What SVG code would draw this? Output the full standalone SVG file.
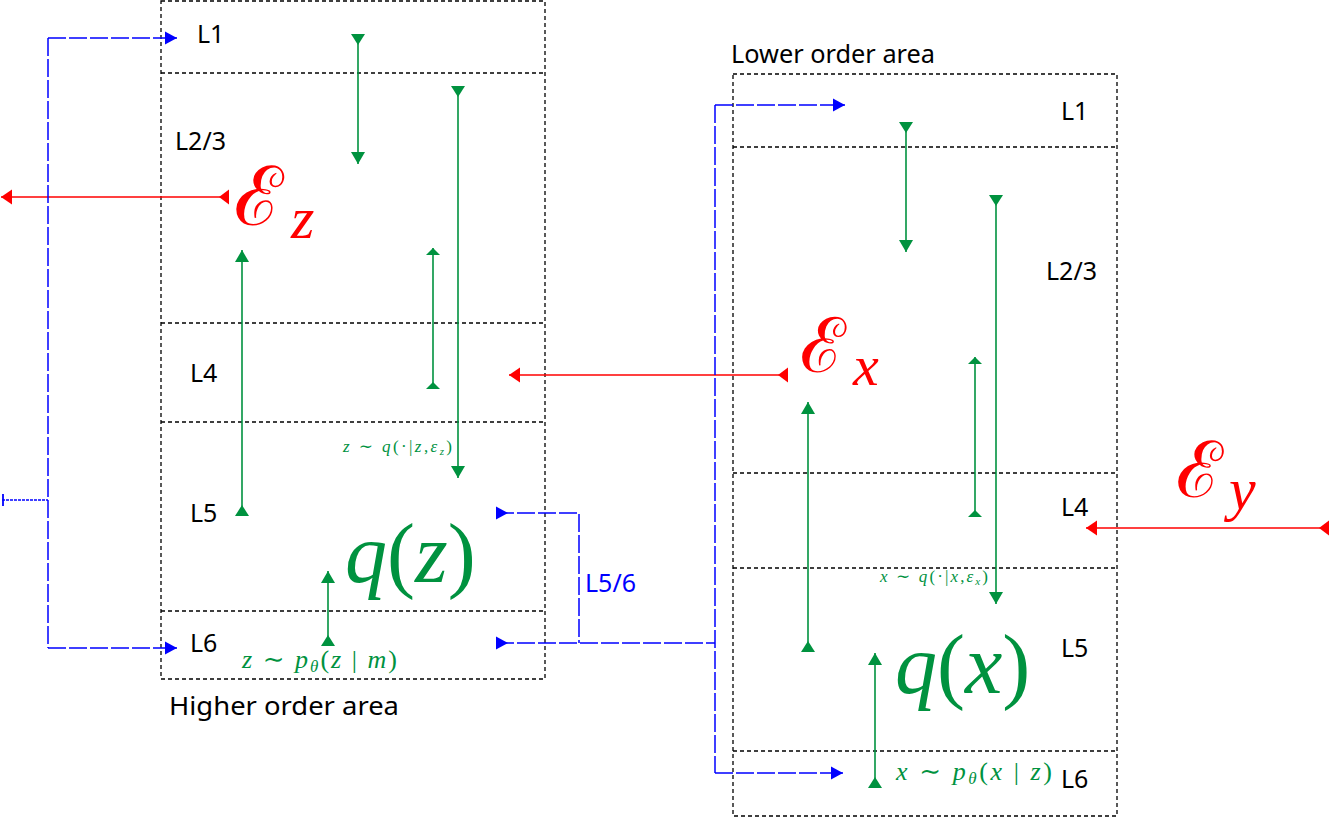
<svg xmlns="http://www.w3.org/2000/svg" width="1329" height="818" viewBox="0 0 1329 818">
<style>
.box{fill:none;stroke:#000;stroke-width:1.3;stroke-dasharray:4 3}
.lbl{font-family:"Noto Sans","Open Sans",sans-serif;font-size:25px;fill:#000}
.area{font-family:"Noto Sans","Open Sans",sans-serif;font-size:26px;fill:#000}
.m{font-family:"Liberation Serif","DejaVu Serif",serif}
.cal{font-family:"DejaVu Serif",serif}
.i{font-style:italic}
.g{fill:#00923f}
.r{fill:#ff0000}
.gl{stroke:#00923f;stroke-width:1.6;fill:none}
.rl{stroke:#ff0000;stroke-width:1.6;fill:none}
.bl{stroke:#0000ff;stroke-width:1.5;fill:none;stroke-dasharray:18 3}
.bd{stroke:#0000ff;stroke-width:1.5;fill:none;stroke-dasharray:3 1}
</style>
<defs>
<marker id="gS" markerUnits="userSpaceOnUse" markerWidth="1" markerHeight="1" orient="auto" overflow="visible"><path d="M-2,-7 L9,0 L-2,7 z" fill="#00923f"/></marker>
<marker id="gE" markerUnits="userSpaceOnUse" markerWidth="1" markerHeight="1" orient="auto" overflow="visible"><path d="M-12,-7 L0,0 L-12,7 z" fill="#00923f"/></marker>
<marker id="gSf" markerUnits="userSpaceOnUse" markerWidth="1" markerHeight="1" orient="auto" overflow="visible"><path d="M-1,-7 L6,0 L-1,7 z" fill="#00923f"/></marker>
<marker id="gEf" markerUnits="userSpaceOnUse" markerWidth="1" markerHeight="1" orient="auto" overflow="visible"><path d="M-7,-7 L0,0 L-7,7 z" fill="#00923f"/></marker>
<marker id="rS" markerUnits="userSpaceOnUse" markerWidth="1" markerHeight="1" orient="auto" overflow="visible"><path d="M0,-7.5 L10,0 L0,7.5 z" fill="#ff0000"/></marker>
<marker id="rE" markerUnits="userSpaceOnUse" markerWidth="1" markerHeight="1" orient="auto" overflow="visible"><path d="M-11,-7.5 L0,0 L-11,7.5 z" fill="#ff0000"/></marker>
<marker id="bS" markerUnits="userSpaceOnUse" markerWidth="1" markerHeight="1" orient="auto" overflow="visible"><path d="M0,-6.5 L12,0 L0,6.5 z" fill="#0000ff"/></marker>
<marker id="bE" markerUnits="userSpaceOnUse" markerWidth="1" markerHeight="1" orient="auto" overflow="visible"><path d="M-12,-6.5 L0,0 L-12,6.5 z" fill="#0000ff"/></marker>
<marker id="bT" markerUnits="userSpaceOnUse" markerWidth="1" markerHeight="1" orient="auto" overflow="visible"><path d="M1,-6 V6" stroke="#0000ff" stroke-width="1.8" fill="none"/></marker>
</defs>

<g id="higher-area">
  <rect class="box" x="161" y="1" width="384" height="678"/>
  <path class="box" d="M161,73 H545 M161,323 H545 M161,422 H545 M161,611 H545"/>
  <text class="lbl" x="197" y="43">L1</text>
  <text class="lbl" x="175" y="150">L2/3</text>
  <text class="lbl" x="190" y="382">L4</text>
  <text class="lbl" x="190" y="522">L5</text>
  <text class="lbl" x="190" y="652">L6</text>
  <text class="area" x="169" y="715" textLength="230" lengthAdjust="spacingAndGlyphs">Higher order area</text>
</g>

<g id="lower-area">
  <rect class="box" x="733" y="74" width="384" height="742"/>
  <path class="box" d="M733,147 H1117 M733,473 H1117 M733,568 H1117 M733,751 H1117"/>
  <text class="lbl" x="1061" y="120">L1</text>
  <text class="lbl" x="1046" y="280">L2/3</text>
  <text class="lbl" x="1061" y="516">L4</text>
  <text class="lbl" x="1061" y="657">L5</text>
  <text class="lbl" x="1061" y="788">L6</text>
  <text class="area" x="731" y="63" textLength="204" lengthAdjust="spacingAndGlyphs">Lower order area</text>
</g>

<g id="eps-z">
  <text class="cal r" x="234" y="225" font-size="82">ℰ</text>
  <text class="m i r" x="291" y="238" font-size="60">z</text>
</g>
<g id="eps-x">
  <text class="cal r" x="800" y="372" font-size="76">ℰ</text>
  <text class="m i r" x="853" y="385" font-size="58">x</text>
</g>
<g id="eps-y">
  <text class="cal r" x="1176" y="497" font-size="78">ℰ</text>
  <text class="m i r" x="1229" y="509" font-size="60">y</text>
</g>
<g id="q-z">
  <text class="m g" x="345" y="582" font-size="84"><tspan class="i">q</tspan>(<tspan class="i">z</tspan>)</text>
</g>
<g id="q-x">
  <text class="m g" x="895" y="693" font-size="84"><tspan class="i">q</tspan>(<tspan class="i">x</tspan>)</text>
</g>
<g id="labels">
  <text class="m g" x="343" y="452" font-size="17" textLength="109" lengthAdjust="spacing"><tspan class="i">z</tspan> ∼ <tspan class="i">q</tspan>(·|<tspan class="i">z</tspan>,<tspan class="i">ε</tspan><tspan class="i" font-size="11" dy="3">z</tspan><tspan dy="-3">)</tspan></text>
  <text class="m g" x="242" y="668" font-size="26" textLength="155" lengthAdjust="spacing"><tspan class="i">z</tspan> ∼ <tspan class="i">p</tspan><tspan class="i" font-size="17" dy="4">θ</tspan><tspan dy="-4">(</tspan><tspan class="i">z</tspan> | <tspan class="i">m</tspan>)</text>
  <text class="m g" x="880" y="582" font-size="17" textLength="108" lengthAdjust="spacing"><tspan class="i">x</tspan> ∼ <tspan class="i">q</tspan>(·|<tspan class="i">x</tspan>,<tspan class="i">ε</tspan><tspan class="i" font-size="11" dy="3">x</tspan><tspan dy="-3">)</tspan></text>
  <text class="m g" x="896" y="780" font-size="26" textLength="156" lengthAdjust="spacing"><tspan class="i">x</tspan> ∼ <tspan class="i">p</tspan><tspan class="i" font-size="17" dy="4">θ</tspan><tspan dy="-4">(</tspan><tspan class="i">x</tspan> | <tspan class="i">z</tspan>)</text>
  <text x="585" y="592" font-family="Noto Sans, Open Sans, sans-serif" font-size="25" fill="#0000ff">L5/6</text>
</g>

<g id="connectors">
  <path class="gl" d="M358,36 V164" marker-start="url(#gS)" marker-end="url(#gE)"/>
  <path class="gl" d="M458,88 V478" marker-start="url(#gS)" marker-end="url(#gE)"/>
  <path class="gl" d="M242,514 V250" marker-start="url(#gS)" marker-end="url(#gE)"/>
  <path class="gl" d="M433,388 V248" marker-start="url(#gSf)" marker-end="url(#gEf)"/>
  <path class="gl" d="M328,644 V571" marker-start="url(#gS)" marker-end="url(#gE)"/>
  <path class="gl" d="M906,124 V252" marker-start="url(#gS)" marker-end="url(#gE)"/>
  <path class="gl" d="M996,197 V604" marker-start="url(#gS)" marker-end="url(#gE)"/>
  <path class="gl" d="M808,650 V402" marker-start="url(#gS)" marker-end="url(#gE)"/>
  <path class="gl" d="M975,516 V357" marker-start="url(#gSf)" marker-end="url(#gEf)"/>
  <path class="gl" d="M875,786 V653" marker-start="url(#gS)" marker-end="url(#gE)"/>
  <path class="rl" d="M229,197 H1" marker-start="url(#rS)" marker-end="url(#rE)"/>
  <path class="rl" d="M788,375 H509" marker-start="url(#rS)" marker-end="url(#rE)"/>
  <path class="rl" d="M1329,528 H1086" marker-start="url(#rS)" marker-end="url(#rE)"/>
  <path class="bd" d="M2,500 H48" marker-start="url(#bT)"/>
  <path class="bl" d="M48,38 V648"/>
  <path class="bl" d="M48,38 H177" marker-end="url(#bE)"/>
  <path class="bl" d="M48,648 H177" marker-end="url(#bE)"/>
  <path class="bl" d="M496,513 H579 V643" marker-start="url(#bS)"/>
  <path class="bl" d="M496,643 H715" marker-start="url(#bS)"/>
  <path class="bl" d="M715,105 V773"/>
  <path class="bl" d="M715,105 H845" marker-end="url(#bE)"/>
  <path class="bl" d="M715,773 H843" marker-end="url(#bE)"/>
</g>
</svg>
